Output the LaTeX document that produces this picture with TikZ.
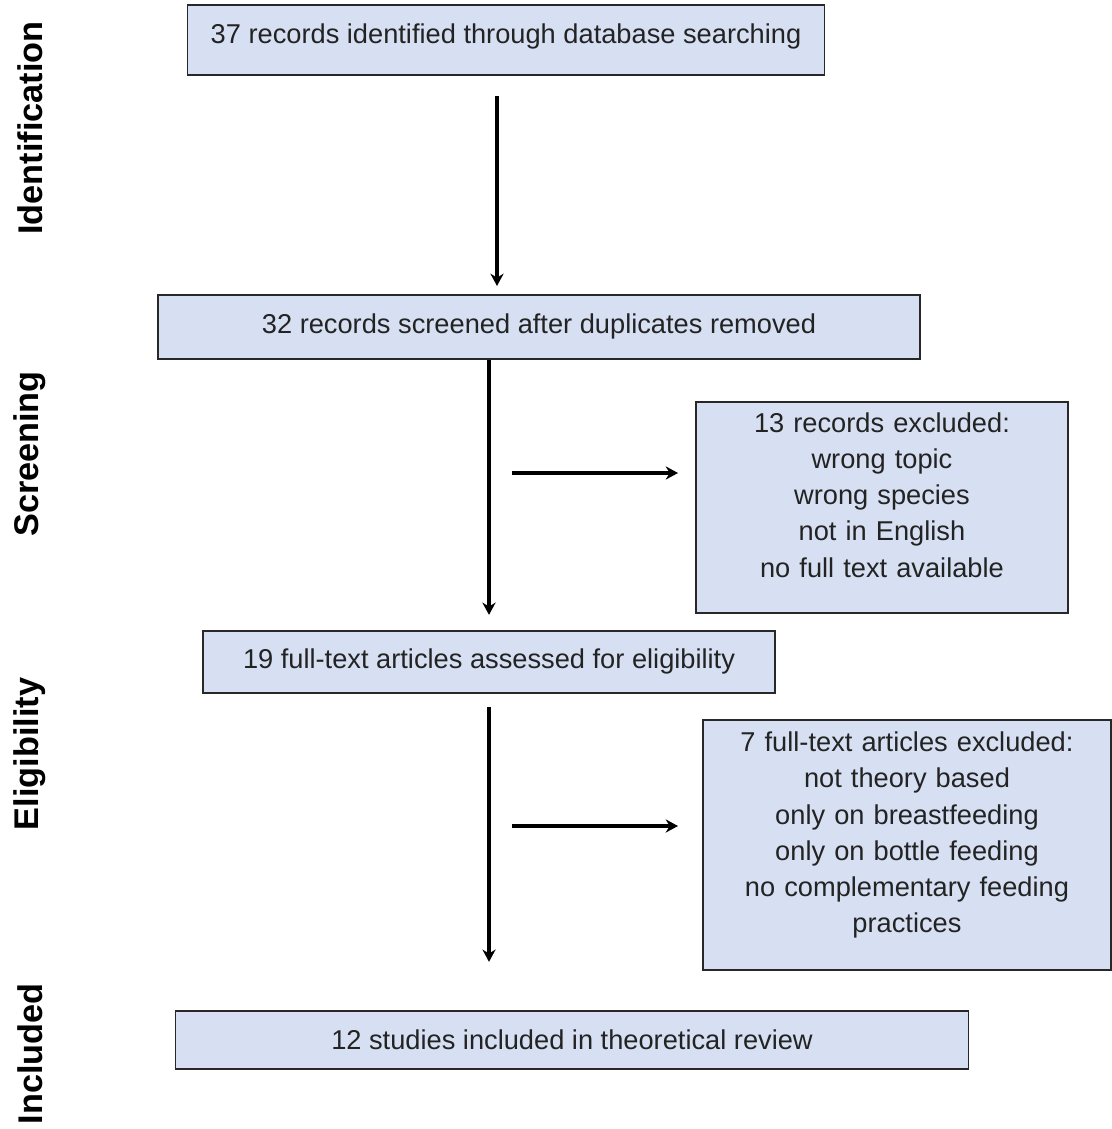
\documentclass[tikz,border=0pt]{standalone}
\usepackage{fontspec}
\setmainfont{Liberation Sans}
\usetikzlibrary{positioning,arrows.meta}
\definecolor{boxblue}{RGB}{214,224,242}
\definecolor{boxline}{RGB}{40,40,40}
\definecolor{txtgray}{RGB}{35,35,35}
\newcommand{\lift}{\rule[-0.5cm]{0pt}{0pt}}
\begin{document}
\begin{tikzpicture}[>={Stealth[length=7pt,width=7.5pt]},
  box/.style={draw=boxline,fill=boxblue,line width=1.1pt,text=txtgray,align=center,inner sep=0pt,
    font=\fontsize{15.5}{20.6}\selectfont},
  stage/.style={rotate=90,font=\fontsize{19.5}{22}\selectfont\bfseries},
  arr/.style={->,line width=2.2pt}]
\useasboundingbox (0,0) rectangle (22.22,-22.58);

\node[box,minimum width=12.74cm,minimum height=1.4cm,text depth=0.26cm] (ident) at (10.12,-0.8) {37 records identified through database searching};
\node[box,minimum width=15.24cm,minimum height=1.28cm,below=4.36cm of ident,xshift=0.66cm] (screen) {32 records screened after duplicates removed};
\node[box,minimum width=11.44cm,minimum height=1.24cm,below=5.4cm of screen,xshift=-1cm] (full) {19 full-text articles assessed for eligibility};
\node[box,minimum width=15.86cm,minimum height=1.16cm,below=6.32cm of full,xshift=1.66cm] (incl) {12 studies included in theoretical review};
\node[box,text width=7.44cm,minimum height=4.22cm,below right=0.82cm and 3.12cm of screen.south] (excla) {13 records excluded:\\ wrong topic\\ wrong species\\ not in English\\ no full text available\lift};
\node[box,text width=8.16cm,minimum height=5cm,below right=0.5cm and 4.26cm of full.south] (exclb) {7 full-text articles excluded:\\ not theory based\\ only on breastfeeding\\ only on bottle feeding\\ no complementary feeding\\ practices\lift};

% stage labels
\node[stage] (lident) at (0.6,-2.56) {Identification};
\node[stage] (lscreen) at (0.6,-9.08) {Screening};
\node[stage] (lelig) at (0.6,-15.08) {Eligibility};
\node[stage] (lincl) at (0.6,-21.08) {Included};

\coordinate (a1) at ([xshift=-0.18cm]ident.south);
\coordinate (s1) at (10.24,-9.46);
\coordinate (s2) at (10.24,-16.52);

\draw[arr,shorten <=0.4cm,shorten >=0.16cm] (a1) -- (a1 |- screen.north);
\draw[arr,shorten >=0.3cm] (full.north |- screen.south) -- (full.north);
\draw[arr,shorten <=0.26cm,shorten >=0.96cm] (full.south) -- (full.south |- incl.north);
\draw[arr,shorten >=0.34cm] (s1) -- (s1 -| excla.west);
\draw[arr,shorten >=0.48cm] (s2) -- (s2 -| exclb.west);
\end{tikzpicture}
\end{document}
